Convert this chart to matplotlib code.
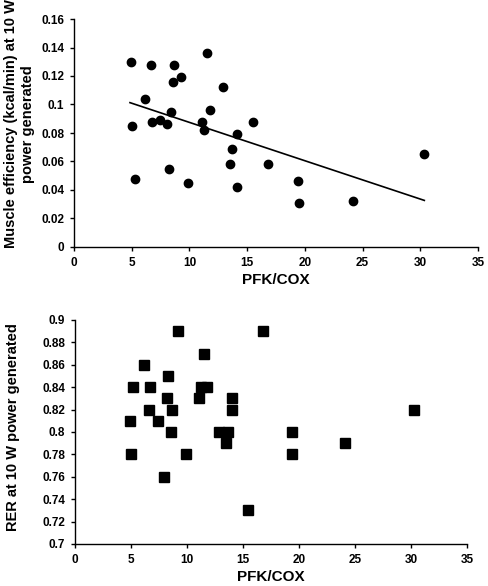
import matplotlib
matplotlib.use("Agg")
import matplotlib.pyplot as plt
import numpy as np
from matplotlib.ticker import FuncFormatter

plt.rcParams['font.family'] = ['Liberation Sans', 'DejaVu Sans']
plt.rcParams['font.weight'] = 'bold'

# Top panel: muscle efficiency vs PFK/COX
eff_x = [4.9, 6.64, 8.68, 11.48, 9.26, 8.54, 12.87, 6.15, 8.37, 11.77, 5.02, 6.75,
         7.44, 8.02, 11.08, 11.25, 15.55, 14.14, 13.68, 13.5, 16.85, 8.25, 5.25,
         9.9, 14.14, 19.42, 19.5, 24.18, 30.35]
eff_y = [0.130, 0.128, 0.128, 0.136, 0.119, 0.116, 0.112, 0.104, 0.095, 0.096, 0.085, 0.088,
         0.089, 0.086, 0.088, 0.082, 0.088, 0.079, 0.069, 0.058, 0.058, 0.055, 0.048,
         0.045, 0.042, 0.046, 0.031, 0.032, 0.065]
trend_x = [4.85, 30.35]
trend_y = [0.1013, 0.0327]

# Bottom panel: RER vs PFK/COX
rer_x = [4.88, 5.03, 5.2, 6.13, 6.63, 6.72, 7.4, 7.94, 8.21, 8.33, 8.53, 8.68, 9.19,
         9.87, 11.03, 11.21, 11.48, 11.75, 12.82, 13.62, 13.44, 14.06, 14.06, 15.49,
         16.77, 19.39, 19.39, 24.09, 30.24]
rer_y = [0.81, 0.78, 0.84, 0.86, 0.82, 0.84, 0.81, 0.76, 0.83, 0.85, 0.80, 0.82, 0.89,
         0.78, 0.83, 0.84, 0.87, 0.84, 0.80, 0.80, 0.79, 0.83, 0.82, 0.73,
         0.89, 0.80, 0.78, 0.79, 0.82]

x_ticks = [0, 5, 10, 15, 20, 25, 30, 35]
eff_ticks = [0, 0.02, 0.04, 0.06, 0.08, 0.1, 0.12, 0.14, 0.16]
rer_ticks = [0.7, 0.72, 0.74, 0.76, 0.78, 0.8, 0.82, 0.84, 0.86, 0.88, 0.9]

fig = plt.figure(figsize=(4.88, 5.86), dpi=100)
W, H = 488, 586
ax1 = fig.add_axes([74 / W, 1 - 247 / H, (478 - 74) / W, (247 - 19) / H])
ax2 = fig.add_axes([75 / W, 1 - 544 / H, (467 - 75) / W, (544 - 320) / H])

fmt = FuncFormatter(lambda v, p: ('%g' % round(v, 4)))

def style(ax):
    for s in ['top', 'right']:
        ax.spines[s].set_visible(False)
    for s in ['left', 'bottom']:
        ax.spines[s].set_linewidth(1.0)
        ax.spines[s].set_color('black')
    ax.tick_params(direction='out', length=3, width=1, labelsize=8.5, pad=4)
    for lab in ax.get_xticklabels() + ax.get_yticklabels():
        lab.set_fontweight('bold')

ax1.plot(eff_x, eff_y, 'o', color='black', markersize=6, linestyle='none')
ax1.plot(trend_x, trend_y, '-', color='black', linewidth=1.2)
ax1.set_xlim(0, 35)
ax1.set_ylim(0, 0.16)
ax1.set_xticks(x_ticks)
ax1.set_yticks(eff_ticks)
ax1.yaxis.set_major_formatter(fmt)
ax1.set_xlabel('PFK/COX', fontsize=11, fontweight='bold', labelpad=3)
ax1.set_ylabel('Muscle efficiency (kcal/min) at 10 W\npower generated', fontsize=10.5,
               fontweight='bold', linespacing=1.3)
ax1.yaxis.set_label_coords(-0.097, 0.54)
style(ax1)

ax2.plot(rer_x, rer_y, 's', color='black', markersize=7, linestyle='none')
ax2.set_xlim(0, 35)
ax2.set_ylim(0.7, 0.9)
ax2.set_xticks(x_ticks)
ax2.set_yticks(rer_ticks)
ax2.yaxis.set_major_formatter(fmt)
ax2.set_xlabel('PFK/COX', fontsize=11, fontweight='bold', labelpad=3)
ax2.set_ylabel('RER at 10 W power generated', fontsize=10.5, fontweight='bold')
ax2.yaxis.set_label_coords(-0.14, 0.522)
style(ax2)

fig.savefig('out.png', dpi=100)
